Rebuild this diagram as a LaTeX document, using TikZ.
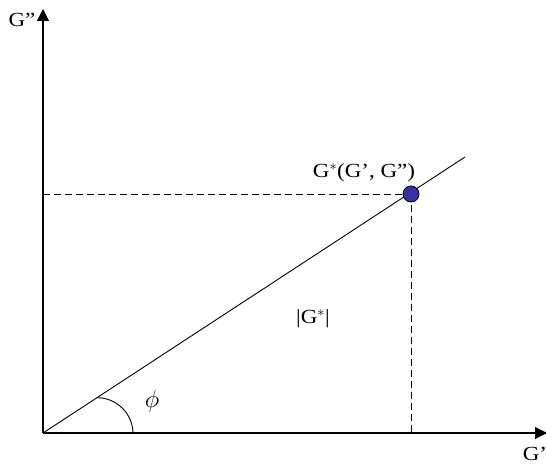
\documentclass[tikz,border=0pt]{standalone}
\usepackage{fontspec}
\setmainfont{Liberation Serif}[FakeStretch=1.15]
\usetikzlibrary{arrows.meta}
\begin{document}
\begin{tikzpicture}[x=1pt,y=1pt,
  axis/.style={line width=1.1pt,-{Triangle[length=12pt,width=12pt]}},
  thin line/.style={line width=0.9pt},
  guide/.style={line width=0.9pt,dash pattern=on 7pt off 4pt},
  lbl/.style={font=\fontsize{20}{23}\selectfont,inner sep=0pt}]
\useasboundingbox (0,0) rectangle (546,464);
\coordinate (O) at (43,31);
\coordinate (ytip) at (43,455);
\coordinate (xtip) at (547,31);
\coordinate (lend) at (465,307);
\coordinate (P) at (411,270);
\coordinate (Px) at (43,270);
\coordinate (Py) at (411,31);
\coordinate (arcstart) at (97,66.3);
\draw[axis] (O) -- (ytip);
\draw[axis] (O) -- (xtip);
\draw[thin line] (O) -- (lend);
\draw[guide] (Px) -- (P);
\draw[guide] (P) -- (Py);
\draw[thin line] (arcstart) arc[start angle=90,end angle=0,radius=36];
\node[circle,draw=black,line width=0.8pt,fill={rgb,255:red,52;green,50;blue,160},minimum size=16pt,inner sep=0pt] (dot) at (P) {};
\node[lbl] (gpp) at (22,444) {G”};
\node[lbl] (gp) at (535,10) {G’};
\node[lbl] (gstar) at (364,291) {G$^{*}$(G’, G”)};
\node[lbl] (mag) at (313,145) {|G$^{*}$|};
\node[lbl,font=\fontsize{25}{28}\selectfont] (phi) at (152,63) {$\phi$};
\end{tikzpicture}
\end{document}
